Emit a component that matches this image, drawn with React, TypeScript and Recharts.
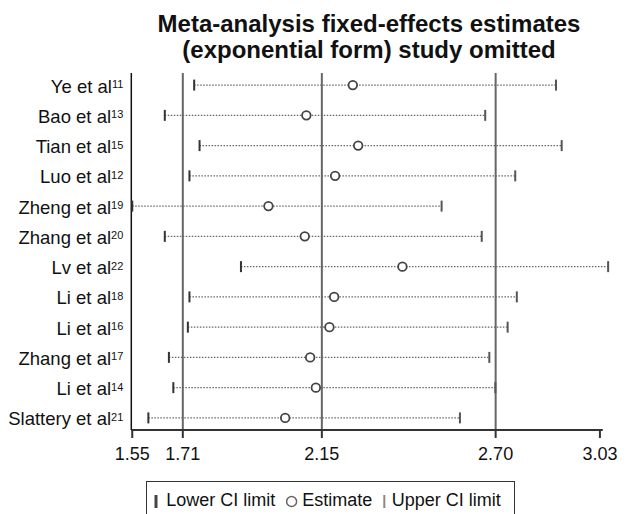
import React from "react";
import {
  ScatterChart, Scatter, XAxis, YAxis, ReferenceLine,
} from "recharts";

const FONT = '"Liberation Sans", Arial, Helvetica, sans-serif';

// one row per omitted study, top to bottom
const studies = [
  "Ye et al", "Bao et al", "Tian et al", "Luo et al", "Zheng et al", "Zhang et al",
  "Lv et al", "Li et al", "Li et al", "Zhang et al", "Li et al", "Slattery et al",
];
const refNums = ["11", "13", "15", "12", "19", "20", "22", "18", "16", "17", "14", "21"];
const estimates = [2.248, 2.101, 2.265, 2.192, 1.981, 2.096, 2.405, 2.189, 2.174, 2.113, 2.131, 2.034];
const lowerCI = [1.746, 1.653, 1.763, 1.731, 1.55, 1.653, 1.894, 1.731, 1.726, 1.666, 1.68, 1.601];
const upperCI = [2.891, 2.667, 2.909, 2.762, 2.529, 2.656, 3.056, 2.767, 2.738, 2.68, 2.699, 2.587];

// overall fixed-effects lower CI / estimate / upper CI
const overallLines = [1.71, 2.15, 2.7];
const xTicks = [1.55, 1.71, 2.15, 2.7, 3.03];
const rowTicks = studies.map((_, i) => i + 1);

const estData = estimates.map((v, i) => ({ x: v, y: i + 1 }));
const lowData = lowerCI.map((v, i) => ({ x: v, y: i + 1 }));
const upData = upperCI.map((v, i) => ({ x: v, y: i + 1 }));

function StudyTick({ x, y, payload }: any) {
  const i = payload.value - 1;
  if (i < 0 || i >= studies.length) return null;
  return (
    <text x={x} y={y} dy={7.5} textAnchor="end" fontSize={18.5} fill="#111" fontFamily={FONT}>
      <tspan>{studies[i]}</tspan>
      <tspan dy={-4.5} fontSize={11}>{refNums[i]}</tspan>
    </text>
  );
}

const LowTick = (p: any) => (
  <line x1={p.cx} x2={p.cx} y1={p.cy - 5.5} y2={p.cy + 5.5} stroke="#333" strokeWidth={2} />
);
const UpTick = (p: any) => (
  <line x1={p.cx} x2={p.cx} y1={p.cy - 5.5} y2={p.cy + 5.5} stroke="#555" strokeWidth={2} />
);
const EstDot = (p: any) => (
  <circle cx={p.cx} cy={p.cy} r={4.3} fill="#fff" stroke="#444" strokeWidth={1.8} />
);

export default function App() {
  return (
    <div style={{ position: "relative", width: 620, height: 506, overflow: "hidden", fontFamily: FONT }}>
      <div
        style={{
          position: "absolute", left: 61, top: 3, width: 600, textAlign: "center",
          fontSize: 24, lineHeight: "26px", fontWeight: "bold", color: "#111",
        }}
      >
        Meta-analysis fixed-effects estimates
        <br />
        (exponential form) study omitted
      </div>

      <ScatterChart width={620} height={506} margin={{ top: 65, right: 18.6, bottom: 54, left: 0 }}>
        <XAxis
          type="number"
          dataKey="x"
          domain={[1.547, 3.06]}
          ticks={xTicks}
          interval={0}
          tickFormatter={(v: number) => v.toFixed(2)}
          axisLine={false}
          tickLine={{ stroke: "#333", strokeWidth: 2 }}
          tickSize={8}
          tickMargin={9}
          height={30}
          tick={{ fontSize: 18, fill: "#111", fontFamily: FONT }}
        />
        <YAxis
          type="number"
          dataKey="y"
          domain={[0.6, 12.4]}
          reversed
          ticks={rowTicks}
          interval={0}
          width={123.3}
          tickLine={false}
          axisLine={{ stroke: "#111", strokeWidth: 1.5 }}
          tick={<StudyTick />}
        />
        {overallLines.map((v) => (
          <ReferenceLine key={v} x={v} stroke="#666" strokeWidth={2} />
        ))}
        <ReferenceLine
          segment={[{ x: 1.547, y: 12.4 }, { x: 3.039, y: 12.4 }]}
          stroke="#333"
          strokeWidth={2}
          ifOverflow="visible"
        />
        {studies.map((_, i) => (
          <ReferenceLine
            key={"ci" + i}
            segment={[{ x: lowerCI[i], y: i + 1 }, { x: upperCI[i], y: i + 1 }]}
            stroke="#666"
            strokeWidth={1.1}
            strokeDasharray="1.5 1.5"
            ifOverflow="visible"
          />
        ))}
        <Scatter data={lowData} shape={LowTick} isAnimationActive={false} />
        <Scatter data={upData} shape={UpTick} isAnimationActive={false} />
        <Scatter data={estData} shape={EstDot} isAnimationActive={false} />
      </ScatterChart>

      <div
        style={{
          position: "absolute", left: 137.7, top: 473, width: 369, height: 44,
          border: "1.5px solid #333", boxSizing: "border-box", fontSize: 18, color: "#111",
        }}
      >
        <svg width={369} height={44} style={{ position: "absolute", left: -1.5, top: -1.5 }}>
          <line x1={11} x2={11} y1={14} y2={27} stroke="#444" strokeWidth={3} />
          <circle cx={146.6} cy={20.5} r={5} fill="#fff" stroke="#666" strokeWidth={1.5} />
          <line x1={239.3} x2={239.3} y1={14} y2={27} stroke="#888" strokeWidth={2} />
        </svg>
        <span style={{ position: "absolute", left: 19.5, top: 8, lineHeight: "20px" }}>Lower CI limit</span>
        <span style={{ position: "absolute", left: 155.5, top: 8, lineHeight: "20px" }}>Estimate</span>
        <span style={{ position: "absolute", left: 245, top: 8, lineHeight: "20px" }}>Upper CI limit</span>
      </div>
    </div>
  );
}
